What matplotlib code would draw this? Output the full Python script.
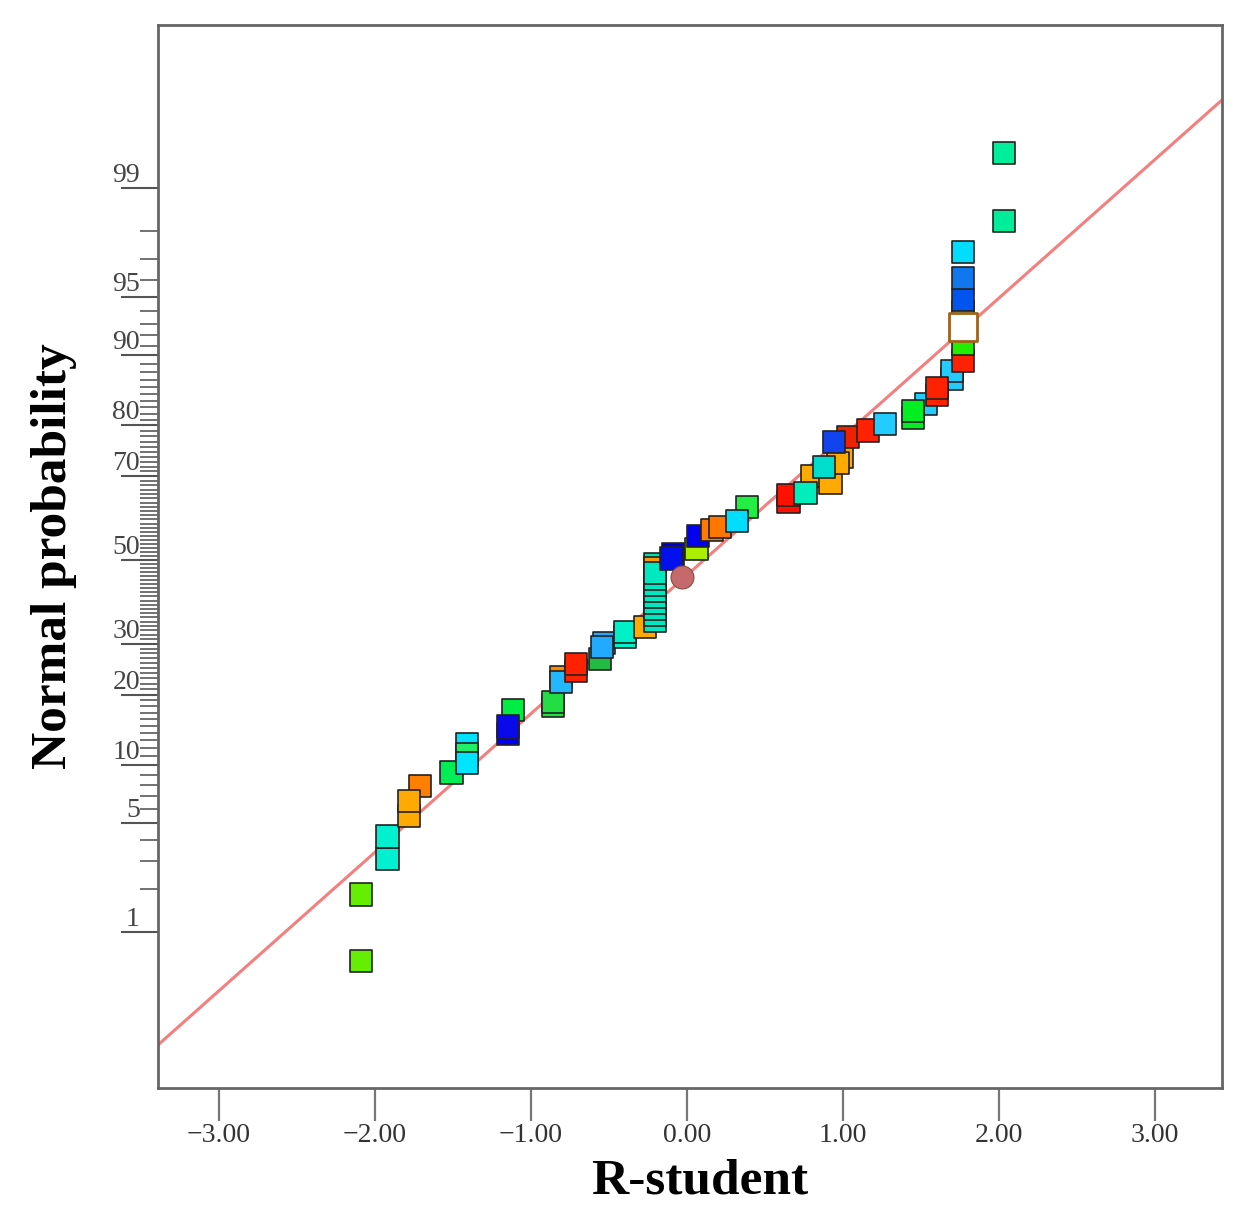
import matplotlib
matplotlib.use("Agg")
import matplotlib.pyplot as plt
from statistics import NormalDist

plt.rcParams['font.family'] = ['Liberation Serif', 'DejaVu Serif']

# residuals (R-student) and their normal probability (%), in drawing order
rstudent = [
    -2.09, -2.09, -1.92, -1.92, -1.71, -1.78, -1.78, -1.51,
    -1.41, -1.41, -1.41, -1.115, -1.15, -1.15,
    -0.86, -0.86, -0.81, -0.81, -0.71, -0.71, -0.56, -0.53, -0.545,
    -0.40, -0.40, -0.27,
    -0.205, -0.205,
    -0.205, -0.205, -0.205, -0.205, -0.205, -0.205, -0.205, -0.205, -0.205,
    -0.09, -0.10, 0.06, 0.07, 0.16, 0.21, 0.385, 0.32,
    0.65, 0.65, 0.80, 0.92, 0.99, 0.97, 0.76, 0.88,
    1.03, 0.94, 1.16, 1.27, 1.53, 1.45, 1.45,
    1.70, 1.70, 1.60, 1.60, 1.77, 1.77, 1.77, 1.77, 1.77, 1.77,
    2.03, 2.03,
]
norm_prob = [
    0.61, 1.83, 3.1, 4.2, 7.9, 5.5, 6.6, 9.2,
    12.5, 11.2, 10.2, 17.4, 13.8, 14.9,
    18.1, 18.8, 23.2, 22.3, 24.5, 25.8, 26.8, 30.2, 29.4,
    31.6, 32.6, 33.8,
    49.0, 48.0,
    35.2, 36.5, 38.0, 39.4, 40.9, 42.3, 43.8, 45.3, 46.8,
    51.4, 50.4, 52.7, 56.0, 57.5, 58.2, 63.0, 59.6,
    64.2, 65.8, 70.0, 68.5, 74.0, 72.8, 66.3, 71.9,
    77.9, 77.0, 79.1, 80.2, 83.5, 81.3, 82.4,
    87.1, 88.1, 84.9, 85.9, 89.3, 91.2, 93.9, 94.8, 96.1, 97.3,
    98.3, 99.45,
]
point_colors = [
    '#66ee00', '#66ee00', '#00f0d0', '#00f0d0', '#ff8000', '#ffaa00', '#ffaa00', '#00ee55',
    '#00e0ff', '#22ee66', '#00e5ff', '#00ee44', '#0000ee', '#0a0ae8',
    '#22dd44', '#22dd44', '#ff8800', '#22b8ff', '#ff2200', '#ff2200', '#22bb44', '#22aaff', '#22aaff',
    '#00f0c8', '#00f0c8', '#ffaa00',
    '#00e0b0', '#ff9900',
    '#00e8c0', '#00e8c0', '#00e8c0', '#00e8c0', '#00e8c0', '#00e8c0', '#00e8c0', '#00e8c0', '#00e8c0',
    '#0000cc', '#0011ee', '#aaee00', '#0000ee', '#ff7a00', '#ff7700', '#22ee44', '#00ddff',
    '#ff1100', '#ff1100', '#ffaa00', '#ffaa00', '#ffaa00', '#ffaa00', '#00eebb', '#00ddcc',
    '#ee2200', '#1144ee', '#ff2200', '#22ccff', '#22ccff', '#00ee22', '#00ee22',
    '#22ccff', '#22ccff', '#ff2200', '#ff2200', '#ff2200', '#22ee00', '#22ee88', '#0055ee', '#1177ee', '#00ddff',
    '#00ee99', '#00ee99',
]

# the two special markers
circle_x, circle_p = -0.03, 45.8
open_x, open_p = 1.77, 92.7

# reference line (probit units): y = slope * x + intercept
line_slope, line_intercept = 0.866, -0.094

prob_ticks = [1, 5, 10, 20, 30, 50, 70, 80, 90, 95, 99]
x_ticks = [-3, -2, -1, 0, 1, 2, 3]
x_tick_labels = ['\u22123.00', '\u22122.00', '\u22121.00', '0.00', '1.00', '2.00', '3.00']


def probit(p):
    return NormalDist().inv_cdf(p / 100.0)


fig = plt.figure(figsize=(12.41, 12.15), dpi=100)
ax = fig.add_axes([158 / 1241, 1 - 1088 / 1215, 1064 / 1241, 1063 / 1215])

ax.axline((0, line_intercept), slope=line_slope, color='#f47f7f', lw=2.2, zorder=1)

ax.scatter(rstudent, [probit(p) for p in norm_prob], s=16 ** 2, marker='s',
           c=point_colors, edgecolors='#222222', linewidths=1.2, zorder=3)
ax.scatter([circle_x], [probit(circle_p)], s=16.5 ** 2, marker='o',
           c='#c46a6a', edgecolors='#8a4a4a', linewidths=0.8, zorder=4)
ax.scatter([open_x], [probit(open_p)], s=19.5 ** 2, marker='s',
           c='white', edgecolors='#a0621c', linewidths=2.0, zorder=5)

ax.set_xlim(-3.391, 3.429)
ax.set_ylim(-3.30, 3.344)

# x axis
ax.set_xticks(x_ticks)
ax.set_xticklabels(x_tick_labels, fontsize=20, color='#333333')
ax.tick_params(axis='x', direction='out', length=24, width=1.6, color='#777777', pad=1)

# y axis on a probability scale
ax.set_yticks([probit(p) for p in prob_ticks])
ax.set_yticklabels([str(p) for p in prob_ticks], fontsize=20, color='#444444')
minor = [probit(p) for p in range(1, 100) if p not in prob_ticks]
ax.set_yticks(minor, minor=True)
ax.tick_params(axis='y', which='major', direction='out', length=27, width=1.5,
               color='#555555', pad=-14)
ax.tick_params(axis='y', which='minor', direction='out', length=13, width=1.3,
               color='#666666')
for lbl in ax.get_yticklabels():
    lbl.set_verticalalignment('bottom')

for side in ['left', 'bottom', 'top', 'right']:
    ax.spines[side].set_color('#666666')
    ax.spines[side].set_linewidth(2.0)

ax.set_xlabel('R-student', fontsize=37, fontweight='bold')
ax.xaxis.set_label_coords((700 - 158) / 1064, -0.066)
ax.set_ylabel('Normal probability', fontsize=37, fontweight='bold')
ax.yaxis.set_label_coords(-0.076, 0.5)

fig.savefig('out.png', dpi=100)
